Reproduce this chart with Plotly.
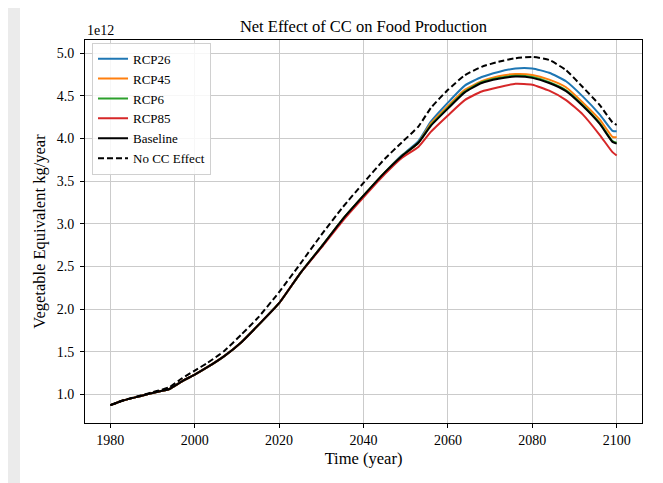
import plotly.graph_objects as go

# values in units of 1e12 kg/year
years = [1980, 1983, 1987, 1991, 1994, 1997, 2000, 2003, 2007, 2011, 2015, 2020,
         2025, 2030, 2035, 2040, 2045, 2049, 2053, 2056, 2060, 2064, 2068, 2072,
         2076, 2080, 2084, 2088, 2092, 2096, 2099, 2100]

baseline = [0.875, 0.93, 0.98, 1.03, 1.065, 1.155, 1.233, 1.32, 1.45, 1.61, 1.81, 2.07,
            2.42, 2.73, 3.05, 3.33, 3.60, 3.79, 3.95, 4.15, 4.35, 4.54, 4.65, 4.70,
            4.725, 4.71, 4.65, 4.555, 4.38, 4.17, 3.96, 3.94]

no_cc = [0.875, 0.93, 0.985, 1.04, 1.085, 1.19, 1.28, 1.37, 1.51, 1.70, 1.90, 2.20,
         2.53, 2.87, 3.19, 3.48, 3.76, 3.95, 4.14, 4.36, 4.57, 4.74, 4.84, 4.90,
         4.94, 4.955, 4.92, 4.80, 4.60, 4.39, 4.19, 4.16]

rcp26 = [0.875, 0.93, 0.98, 1.03, 1.065, 1.155, 1.233, 1.32, 1.45, 1.61, 1.81, 2.07,
         2.42, 2.73, 3.05, 3.33, 3.60, 3.80, 3.97, 4.20, 4.42, 4.62, 4.72, 4.78,
         4.82, 4.82, 4.77, 4.67, 4.49, 4.28, 4.09, 4.085]

rcp45 = [0.875, 0.93, 0.98, 1.03, 1.065, 1.155, 1.233, 1.32, 1.45, 1.61, 1.81, 2.07,
         2.42, 2.73, 3.05, 3.33, 3.60, 3.79, 3.95, 4.18, 4.38, 4.57, 4.67, 4.73,
         4.755, 4.745, 4.69, 4.60, 4.42, 4.22, 4.02, 4.015]

rcp6 = [0.875, 0.93, 0.98, 1.03, 1.065, 1.155, 1.233, 1.32, 1.45, 1.61, 1.81, 2.07,
        2.42, 2.73, 3.05, 3.33, 3.60, 3.79, 3.95, 4.16, 4.36, 4.55, 4.66, 4.71,
        4.735, 4.72, 4.66, 4.565, 4.39, 4.18, 3.97, 3.95]

rcp85 = [0.875, 0.93, 0.98, 1.03, 1.065, 1.155, 1.233, 1.32, 1.45, 1.61, 1.81, 2.07,
         2.42, 2.72, 3.03, 3.31, 3.58, 3.77, 3.90, 4.08, 4.27, 4.45, 4.55, 4.60,
         4.64, 4.63, 4.56, 4.45, 4.28, 4.04, 3.84, 3.80]

series = [
    ("RCP26", rcp26, "#1f77b4", "solid"),
    ("RCP45", rcp45, "#ff7f0e", "solid"),
    ("RCP6", rcp6, "#2ca02c", "solid"),
    ("RCP85", rcp85, "#d62728", "solid"),
    ("Baseline", baseline, "black", "solid"),
    ("No CC Effect", no_cc, "black", "6px,3px"),
]

FONT = "Liberation Serif, Times New Roman, serif"

fig = go.Figure()
for name, vals, color, dash in series:
    fig.add_trace(go.Scatter(x=years, y=vals, name=name, mode="lines",
                             line=dict(color=color, width=2, dash=dash,
                                       shape="spline", smoothing=0.5)))

axis_style = dict(showline=True, linecolor="black", linewidth=1, mirror=True,
                  ticks="outside", ticklen=4, tickcolor="black",
                  showgrid=True, gridcolor="#cbcbcb", gridwidth=1,
                  zeroline=False, tickfont=dict(family=FONT, size=14, color="black"))

fig.update_xaxes(range=[1974, 2106], tickvals=[1980, 2000, 2020, 2040, 2060, 2080, 2100],
                 title=dict(text="Time (year)", font=dict(family=FONT, size=16.5, color="black"),
                            standoff=5),
                 **axis_style)
fig.update_yaxes(range=[0.666, 5.154], tickvals=[1.0, 1.5, 2.0, 2.5, 3.0, 3.5, 4.0, 4.5, 5.0],
                 tickformat=".1f", ticklabelstandoff=3,
                 title=dict(text="Vegetable Equivalent kg/year",
                            font=dict(family=FONT, size=16.5, color="black"), standoff=6),
                 **axis_style)

# grey page frame around a white card
fig.add_shape(type="rect", xref="paper", yref="paper", x0=-0.1167, x1=1.0305,
              y0=-0.16, y1=1.09, fillcolor="white", line=dict(width=0), layer="below")

fig.add_annotation(text="1e12", xref="paper", yref="paper", x=0, y=1.0,
                   xanchor="left", yanchor="bottom", showarrow=False,
                   font=dict(family=FONT, size=14, color="black"))

fig.update_layout(
    width=655, height=475,
    margin=dict(l=77, r=21, t=32, b=60),
    paper_bgcolor="#ebebeb",
    plot_bgcolor="white",
    title=dict(text="Net Effect of CC on Food Production", x=0.5427, xanchor="center",
               y=0.962, yanchor="middle", font=dict(family=FONT, size=16.5, color="black")),
    legend=dict(x=0.0126, y=0.993, xanchor="left", yanchor="top",
                bgcolor="rgba(255,255,255,0.85)", bordercolor="#d0d0d0", borderwidth=1,
                font=dict(family=FONT, size=13, color="black"), itemwidth=30),
    showlegend=True,
)

fig.write_html("out.html")
